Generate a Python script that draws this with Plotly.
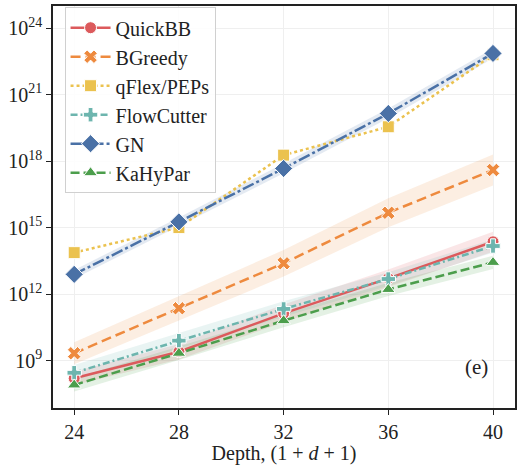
import plotly.graph_objects as go

depth = [24, 28, 32, 36, 40]

# log10 of values
quickbb = [8.2, 9.4, 11.13, 12.71, 14.36]
bgreedy = [9.33, 11.36, 13.39, 15.67, 17.6]
qflex = [13.87, 15.0, 18.27, 19.55, 22.8]
flowcutter = [8.45, 9.9, 11.33, 12.68, 14.17]
gn = [12.89, 15.26, 17.67, 20.15, 22.86]
kahypar = [7.9, 9.33, 10.8, 12.21, 13.43]

# band half-widths (log10 decades)
quickbb_err = [0.3, 0.35, 0.4, 0.4, 0.45]
bgreedy_err = [0.5, 0.55, 0.6, 0.65, 0.7]
qflex_err = [0.0, 0.0, 0.0, 0.0, 0.0]
flowcutter_err = [0.35, 0.35, 0.35, 0.3, 0.3]
gn_err = [0.2, 0.2, 0.22, 0.22, 0.22]
kahypar_err = [0.3, 0.3, 0.3, 0.3, 0.3]

names = ["QuickBB", "BGreedy", "qFlex/PEPs", "FlowCutter", "GN", "KaHyPar"]
series = [quickbb, bgreedy, qflex, flowcutter, gn, kahypar]
errs = [quickbb_err, bgreedy_err, qflex_err, flowcutter_err, gn_err, kahypar_err]
colors = ["#dc5a5c", "#ee8a3e", "#ebc24f", "#6db5ae", "#4a71a6", "#4c9e4c"]
fills = ["rgba(220,90,92,0.15)", "rgba(238,138,62,0.15)", "rgba(235,194,79,0.12)",
         "rgba(109,181,174,0.15)", "rgba(74,113,166,0.15)", "rgba(76,158,76,0.15)"]
symbols = ["circle", "x", "square", "cross", "diamond", "triangle-up"]
dashes = ["solid", "10px,5px", "dot", "7px,3px,2px,3px", "12px,3px,3px,3px", "9px,4px"]
msizes = [12, 12, 12, 12, 14, 12]

tick_exp = [9, 12, 15, 18, 21, 24]

fig = go.Figure()

for n, s, e, f in zip(names, series, errs, fills):
    if max(e) == 0:
        continue
    upper = [10.0 ** (v + d) for v, d in zip(s, e)]
    lower = [10.0 ** (v - d) for v, d in zip(s, e)]
    fig.add_trace(go.Scatter(x=depth, y=upper, mode="lines", line=dict(width=0),
                             showlegend=False, hoverinfo="skip"))
    fig.add_trace(go.Scatter(x=depth, y=lower, mode="lines", line=dict(width=0),
                             fill="tonexty", fillcolor=f, showlegend=False, hoverinfo="skip"))

for n, s, c, sym, d, ms in zip(names, series, colors, symbols, dashes, msizes):
    fig.add_trace(go.Scatter(
        x=depth, y=[10.0 ** v for v in s], mode="lines+markers", name=n,
        line=dict(color=c, width=2.5, dash=d),
        marker=dict(symbol=sym, size=ms, color=c, line=dict(color="white", width=1)),
    ))

font = "Liberation Serif"
fig.update_layout(
    width=519, height=465,
    margin=dict(l=53, r=2, t=6, b=57),
    paper_bgcolor="white", plot_bgcolor="white",
    font=dict(family=font, size=20, color="#222"),
    showlegend=True,
    legend=dict(x=0.025, y=0.997, xanchor="left", yanchor="top", traceorder="normal",
                bgcolor="rgba(255,255,255,0.85)", bordercolor="#d0d0d0", borderwidth=1,
                font=dict(size=20, family=font), tracegroupgap=0, itemwidth=40),
    xaxis=dict(range=[23.19, 40.84], tickvals=depth, ticktext=[str(v) for v in depth],
               showgrid=True, gridcolor="#efefef", gridwidth=1,
               showline=True, linecolor="#222", linewidth=1.5, mirror=True,
               ticks="outside", ticklen=5, tickcolor="#222", zeroline=False,
               tickfont=dict(size=20),
               title=dict(text="Depth, (1 + <i>d</i> + 1)", font=dict(size=20), standoff=4)),
    yaxis=dict(type="log", range=[6.86, 25.0],
               tickvals=[10.0 ** k for k in tick_exp],
               ticktext=["10<sup>%d</sup>" % k for k in tick_exp],
               tickfont=dict(size=20),
               showgrid=True, gridcolor="#efefef", gridwidth=1,
               showline=True, linecolor="#222", linewidth=1.5, mirror=True,
               ticks="outside", ticklen=5, tickcolor="#222", zeroline=False),
    annotations=[dict(text="(e)", x=0.916, y=0.102, xref="paper", yref="paper",
                      xanchor="center", yanchor="middle",
                      showarrow=False, font=dict(size=21, family=font))],
)

fig.write_html("out.html")
